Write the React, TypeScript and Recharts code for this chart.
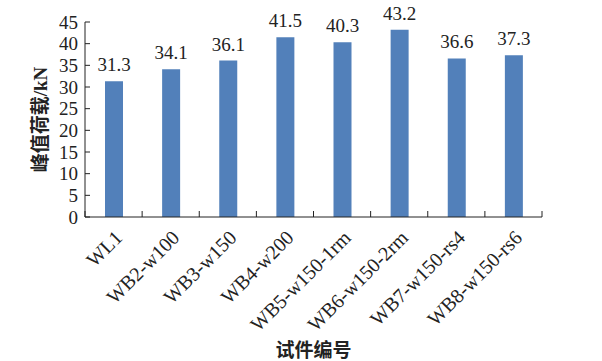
import { BarChart, Bar, XAxis, YAxis, LabelList } from "recharts";

const specimens = [
  "WL1",
  "WB2-w100",
  "WB3-w150",
  "WB4-w200",
  "WB5-w150-1rm",
  "WB6-w150-2rm",
  "WB7-w150-rs4",
  "WB8-w150-rs6",
];
const peakLoads = [31.3, 34.1, 36.1, 41.5, 40.3, 43.2, 36.6, 37.3];
const yTicks = [0, 5, 10, 15, 20, 25, 30, 35, 40, 45];

const data = specimens.map((name, i) => ({ name, load: peakLoads[i] }));

const FONT = "'Liberation Serif', 'Times New Roman', 'DejaVu Serif', serif";
const CJK = "'Liberation Serif', 'Noto Sans CJK SC', serif";
const X_MARGIN = 4;
const Y_MARGIN = 7;

function XTick(props: any) {
  const { x, y, payload, index, visibleTicksCount } = props;
  const half = payload?.offset ?? 28.5;
  const axisY = y - X_MARGIN;
  const last = index === (visibleTicksCount ?? specimens.length) - 1;
  const ax = x + 5;
  const ay = axisY + 17;
  return (
    <g>
      <line x1={x - half} x2={x - half} y1={axisY} y2={axisY - 6} stroke="#222" />
      {last && <line x1={x + half} x2={x + half} y1={axisY} y2={axisY - 6} stroke="#222" />}
      <text
        x={ax}
        y={ay}
        textAnchor="end"
        dominantBaseline="central"
        transform={`rotate(-45 ${ax} ${ay})`}
        style={{ fontFamily: FONT, fontSize: 20 }}
        fill="#222"
      >
        {payload.value}
      </text>
    </g>
  );
}

function YTick(props: any) {
  const { x, y, payload } = props;
  const axisX = x + Y_MARGIN;
  return (
    <g>
      <line x1={axisX} x2={axisX + 5} y1={y} y2={y} stroke="#222" />
      <text x={x} y={y} textAnchor="end" dominantBaseline="central" style={{ fontFamily: FONT, fontSize: 19 }} fill="#222">
        {payload.value}
      </text>
    </g>
  );
}

export default function App() {
  return (
    <div style={{ width: 602, height: 361, background: "#fff" }}>
      <style>{`body{margin:0}`}</style>
      <BarChart width={602} height={361} data={data} margin={{ top: 22, right: 60, bottom: 0, left: 0 }}>
        <XAxis
          dataKey="name"
          interval={0}
          height={144}
          tickSize={0}
          tickLine={false}
          tickMargin={X_MARGIN}
          tick={<XTick />}
          axisLine={{ stroke: "#222" }}
          label={{
            value: "试件编号",
            position: "insideBottom",
            offset: 4,
            style: { fontFamily: CJK, fontSize: 19, fontWeight: "bold" },
            fill: "#222",
          }}
        />
        <YAxis
          width={85}
          domain={[0, 45]}
          ticks={yTicks}
          interval={0}
          tickSize={0}
          tickLine={false}
          tickMargin={Y_MARGIN}
          tick={<YTick />}
          axisLine={{ stroke: "#222" }}
          label={{
            value: "峰值荷载/kN",
            angle: -90,
            position: "insideLeft",
            offset: 40,
            style: { fontFamily: CJK, fontSize: 19, fontWeight: "bold", textAnchor: "middle" },
            fill: "#222",
          }}
        />
        <Bar dataKey="load" fill="#5280BA" barSize={18} isAnimationActive={false}>
          <LabelList
            dataKey="load"
            position="top"
            offset={10}
            style={{ fontFamily: FONT, fontSize: 19 }}
            fill="#222"
          />
        </Bar>
      </BarChart>
    </div>
  );
}
